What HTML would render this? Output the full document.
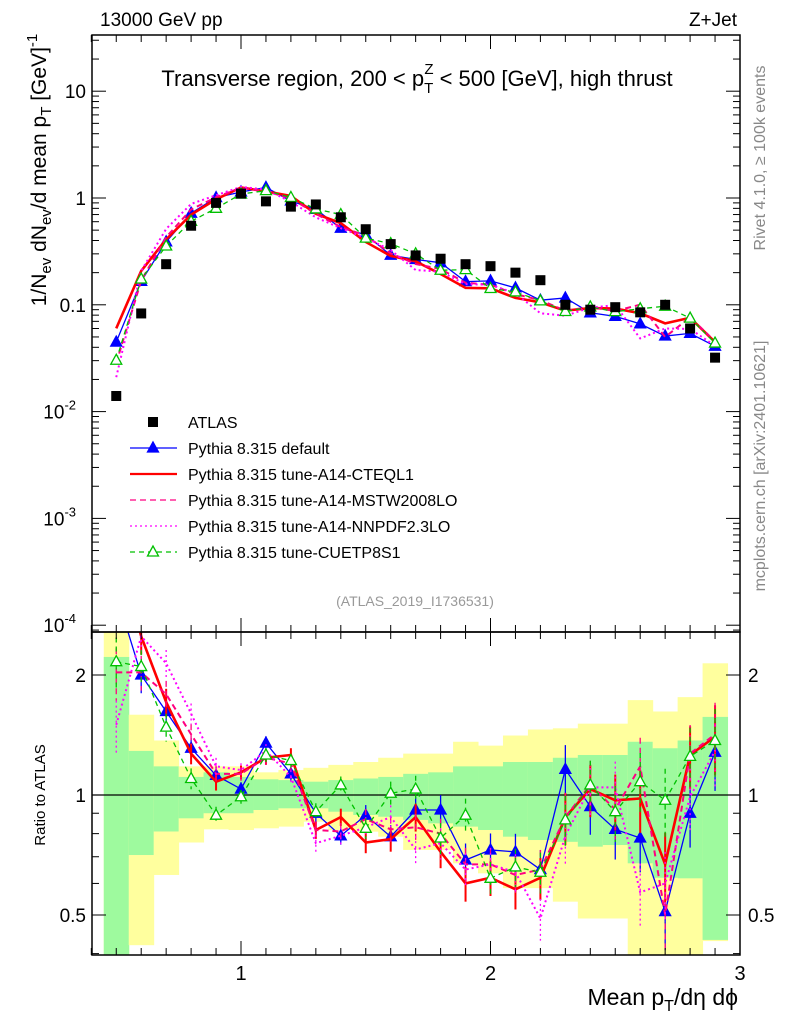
<!DOCTYPE html>
<html><head><meta charset="utf-8"><style>
body{margin:0;background:#fff}
svg{display:block;font-family:"Liberation Sans",sans-serif}
</style></head><body>
<svg id="c" width="786" height="1024" viewBox="0 0 786 1024">
<g id="bands"></g>
<g id="marks"></g>
<g id="axes"></g>
<text x="100" y="26" font-size="19">13000 GeV pp</text>
<text x="737" y="26" font-size="19" text-anchor="end">Z+Jet</text>
<text x="417" y="86" font-size="22" text-anchor="middle">Transverse region, 200 &lt; p<tspan font-size="15" dy="7">T</tspan><tspan font-size="15" dx="-9" dy="-19">Z</tspan><tspan dy="12"> &lt; 500 [GeV], high thrust</tspan></text>
<text transform="translate(765,158) rotate(-90)" font-size="16" fill="#888" text-anchor="middle">Rivet 4.1.0, ≥ 100k events</text>
<text transform="translate(765,466) rotate(-90)" font-size="16" fill="#888" text-anchor="middle">mcplots.cern.ch [arXiv:2401.10621]</text>
<text x="415" y="606" font-size="14" fill="#999" text-anchor="middle">(ATLAS_2019_I1736531)</text>
<text transform="translate(46,170) rotate(-90)" font-size="21" text-anchor="middle">1/N<tspan font-size="15" dy="5">ev</tspan><tspan dy="-5"> dN</tspan><tspan font-size="15" dy="5">ev</tspan><tspan dy="-5">/d mean p</tspan><tspan font-size="15" dy="5">T</tspan><tspan dy="-5"> [GeV]</tspan><tspan font-size="15" dy="-9">-1</tspan></text>
<text transform="translate(45,795) rotate(-90)" font-size="15" text-anchor="middle">Ratio to ATLAS</text>
<text x="738" y="1005" font-size="23" text-anchor="end">Mean p<tspan font-size="16" dy="6">T</tspan><tspan dy="-6">/dη dϕ</tspan></text>
<g id="legend"></g>
</svg>
<script>
const xs=[0.5,0.6,0.7,0.8,0.9,1.0,1.1,1.2,1.3,1.4,1.5,1.6,1.7,1.8,1.9,2.0,2.1,2.2,2.3,2.4,2.5,2.6,2.7,2.8,2.9];
const atlas=[0.014,0.083,0.24,0.55,0.9,1.1,0.93,0.83,0.87,0.66,0.51,0.37,0.29,0.27,0.24,0.23,0.2,0.17,0.1,0.09,0.095,0.085,0.1,0.06,0.032];
const rDefault=[3.2,2.0,1.62,1.31,1.12,1.035,1.35,1.13,0.9,0.79,0.89,0.786,0.917,0.917,0.687,0.728,0.72,0.65,1.16,0.935,0.82,0.78,0.51,0.9,1.28];
const rCteq=[4.3,2.5,1.71,1.27,1.08,1.14,1.24,1.26,0.817,0.88,0.76,0.775,0.88,0.72,0.6,0.62,0.58,0.62,0.88,1.035,0.97,0.98,0.67,1.26,1.4];
const rMstw=[2.03,2.03,1.79,1.42,1.13,1.13,1.24,1.2,0.817,0.81,0.87,0.82,0.83,0.8,0.67,0.67,0.63,0.65,0.88,1.06,0.92,1.18,0.5,1.27,1.42];
const rNnpdf=[1.5,2.5,2.14,1.6,1.18,1.155,1.29,1.11,0.757,0.79,0.83,0.88,0.73,0.757,0.65,0.67,0.64,0.49,0.79,1.045,1.045,0.57,0.6,0.99,1.29];
const rCuetp=[2.16,2.1,1.48,1.1,0.89,0.99,1.26,1.22,0.908,1.06,0.825,1.01,1.035,0.78,0.89,0.618,0.66,0.64,0.866,1.06,0.908,1.08,0.97,1.25,1.37];
const relErr=[0.15,0.1,0.08,0.06,0.05,0.04,0.04,0.04,0.05,0.05,0.06,0.07,0.08,0.09,0.1,0.1,0.11,0.12,0.15,0.15,0.16,0.18,0.2,0.18,0.2];
const yelLo=[0.35,0.42,0.63,0.76,0.82,0.817,0.825,0.833,0.857,0.817,0.809,0.786,0.728,0.728,0.674,0.636,0.584,0.584,0.54,0.49,0.49,0.35,0.35,0.35,0.43];
const yelHi=[2.6,1.59,1.37,1.18,1.18,1.18,1.14,1.155,1.17,1.19,1.21,1.24,1.27,1.27,1.36,1.33,1.41,1.46,1.47,1.51,1.51,1.73,1.62,1.76,2.14];
const grnLo=[0.35,0.707,0.81,0.874,0.9,0.9,0.917,0.926,0.926,0.908,0.891,0.882,0.866,0.849,0.833,0.817,0.786,0.771,0.763,0.742,0.749,0.674,0.62,0.618,0.433];
const grnHi=[2.22,1.29,1.18,1.11,1.14,1.11,1.095,1.09,1.08,1.09,1.1,1.11,1.13,1.14,1.18,1.18,1.21,1.21,1.24,1.26,1.26,1.36,1.31,1.37,1.57];
const NS='http://www.w3.org/2000/svg';
const L=92,R=740,T=35,MB=632,B=955;
const X=v=>241+(v-1)*249.5;
const Y=v=>198-Math.log10(v)*106.8;
const RY=v=>795-Math.log10(v)*398.6;
function el(p,t,a){const e=document.createElementNS(NS,t);for(const k in a)e.setAttribute(k,a[k]);p.appendChild(e);return e;}
const clipR=v=>Math.max(MB,Math.min(B,v));
const bands=document.getElementById('bands');
xs.forEach((x,i)=>{
 const y1=el(bands,'rect',{x:X(x-0.05),width:X(0.15)-X(0.05)+0.5,y:clipR(RY(yelHi[i])),height:clipR(RY(yelLo[i]))-clipR(RY(yelHi[i])),fill:'#ffff9e'});
 
 const g1=el(bands,'rect',{x:X(x-0.05),width:X(0.15)-X(0.05)+0.5,y:clipR(RY(grnHi[i])),height:clipR(RY(grnLo[i]))-clipR(RY(grnHi[i])),fill:'#9efa9e'});
 
});
el(bands,'line',{x1:L,x2:R,y1:RY(1),y2:RY(1),stroke:'#000','stroke-width':1.3});
const marks=document.getElementById('marks');
el(document.querySelector('svg'),'defs',{}).innerHTML='<clipPath id="cm"><rect x="92" y="35" width="648" height="597"/></clipPath><clipPath id="cr"><rect x="92" y="632" width="648" height="323"/></clipPath>';
const gm=el(marks,'g',{'clip-path':'url(#cm)'});const gr=el(marks,'g',{'clip-path':'url(#cr)'});
const series=[
 {n:'default',r:rDefault,c:'#0000ff',w:1.3,d:'',m:'tri'},
 {n:'cteql1',r:rCteq,c:'#ff0000',w:2.6,d:'',m:''},
 {n:'mstw2008lo',r:rMstw,c:'#ff0080',w:2,d:'6,4',m:'dot'},
 {n:'nnpdf23lo',r:rNnpdf,c:'#ff00ff',w:2,d:'2,3',m:'dot'},
 {n:'cuetp8s1',r:rCuetp,c:'#00c000',w:1.3,d:'5,4',m:'otri'}];
function tri(g,x,y,c,open){const p=el(g,'polygon',{points:`${x},${y-6} ${x-5.5},${y+4} ${x+5.5},${y+4}`,fill:open?'#fff':c,stroke:c,'stroke-width':1.3});return p;}
series.forEach(s=>{
 const mv=s.r.map((r,i)=>r*atlas[i]);
 const pm=el(gm,'polyline',{points:xs.map((x,i)=>X(x)+','+Y(mv[i])).join(' '),fill:'none',stroke:s.c,'stroke-width':s.w,'stroke-dasharray':s.d});
 
 const pr=el(gr,'polyline',{points:xs.map((x,i)=>X(x)+','+RY(s.r[i])).join(' '),fill:'none',stroke:s.c,'stroke-width':s.w,'stroke-dasharray':s.d});
 
 xs.forEach((x,i)=>{
  const eb=el(gr,'line',{x1:X(x),x2:X(x),y1:RY(s.r[i]*(1+relErr[i])),y2:RY(s.r[i]*(1-relErr[i])),stroke:s.c,'stroke-width':s.w>2?2:1.3,'stroke-dasharray':s.d});
  
  if(s.m==='tri'||s.m==='otri'){
   const a=tri(gm,X(x),Y(mv[i]),s.c,s.m==='otri');
   const b=tri(gr,X(x),RY(s.r[i]),s.c,s.m==='otri');
  }
 });
});
xs.forEach((x,i)=>{const r=el(gm,'rect',{x:X(x)-5,y:Y(atlas[i])-5,width:10,height:10,fill:'#000'});
 });
const ax=document.getElementById('axes');
el(ax,'rect',{x:L,y:T,width:R-L,height:MB-T,fill:'none',stroke:'#000','stroke-width':1.5});
el(ax,'rect',{x:L,y:MB,width:R-L,height:B-MB,fill:'none',stroke:'#000','stroke-width':1.5});
const decTicks=[1e-4,1e-3,1e-2,0.1,1,10];
const decLabels=['10','10','10','0.1','1','10'];
const decExp=['-4','-3','-2','','',''];
for(let e=-5;e<=2;e++)for(let k=1;k<10;k++){const v=k*Math.pow(10,e);const y=Y(v);if(y<T||y>MB)continue;const len=k===1?14:7;
 el(ax,'line',{x1:L,x2:L+len,y1:y,y2:y,stroke:'#000'});el(ax,'line',{x1:R,x2:R-len,y1:y,y2:y,stroke:'#000'});}
decTicks.forEach((v,i)=>{const t=el(ax,'text',{x:decExp[i]?76:86,y:Y(v)+7,'font-size':19,'text-anchor':'end'});t.textContent=decLabels[i];
 if(decExp[i]){const s=el(t,'tspan',{'font-size':13,dy:-9});s.textContent=decExp[i];}
 });
for(let v=0.4;v<=3.001;v+=0.1){const x=X(v);const maj=Math.abs(v-Math.round(v))<0.01;const len=maj?14:7;
 [[T,1],[MB,-1],[MB,1],[B,-1]].forEach(([y,d])=>el(ax,'line',{x1:x,x2:x,y1:y,y2:y+d*len,stroke:'#000'}));}
const xTicks=[1,2,3];
xTicks.forEach(v=>{const t=el(ax,'text',{x:X(v),y:980,'font-size':20,'text-anchor':'middle'});t.textContent=v;
 });
const rTicks=[0.5,1,2];
[0.4,0.5,0.6,0.7,0.8,0.9,1,2].forEach(v=>{const y=RY(v);if(y<MB||y>B)return;const len=rTicks.includes(v)?14:7;
 el(ax,'line',{x1:L,x2:L+len,y1:y,y2:y,stroke:'#000'});el(ax,'line',{x1:R,x2:R-len,y1:y,y2:y,stroke:'#000'});});
rTicks.forEach(v=>{const t=el(ax,'text',{x:86,y:RY(v)+7,'font-size':19,'text-anchor':'end'});t.textContent=v;
 
 const t2=el(ax,'text',{x:748,y:RY(v)+7,'font-size':19});t2.textContent=v;
 });
const lg=document.getElementById('legend');
const lNames=['ATLAS','Pythia 8.315 default','Pythia 8.315 tune-A14-CTEQL1','Pythia 8.315 tune-A14-MSTW2008LO','Pythia 8.315 tune-A14-NNPDF2.3LO','Pythia 8.315 tune-CUETP8S1'];
lNames.forEach((n,i)=>{const y=422+i*26;
 if(i===0){el(lg,'rect',{x:148,y:y-5,width:10,height:10,fill:'#000'});}
 else{const s=series[i-1];el(lg,'line',{x1:130,x2:177,y1:y,y2:y,stroke:s.c,'stroke-width':s.w>2?2.2:1.3,'stroke-dasharray':s.d});
  if(s.m==='tri'||s.m==='otri')tri(lg,153,y,s.c,s.m==='otri');}
 const t=el(lg,'text',{x:188,y:y+6,'font-size':16});t.textContent=n;
 });
</script>
</body></html>
